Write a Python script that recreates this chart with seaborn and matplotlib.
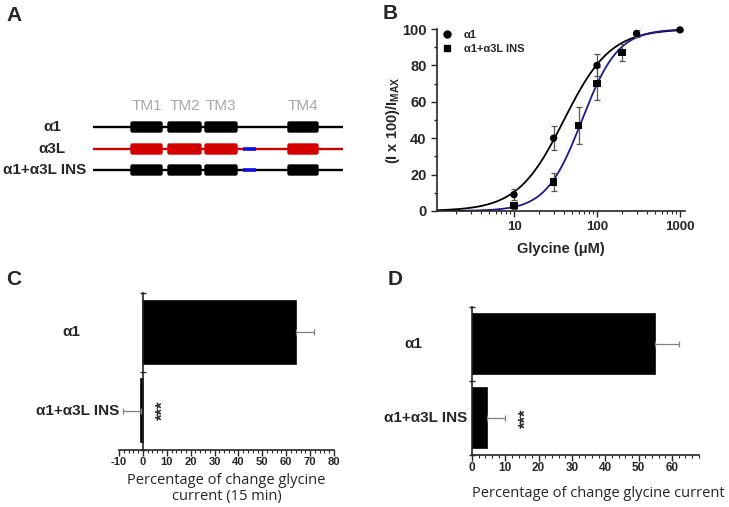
import numpy as np
import pandas as pd
import matplotlib
matplotlib.use("Agg")
import matplotlib.pyplot as plt
from matplotlib.patches import FancyBboxPatch
import seaborn as sns

# ---------------- data ----------------
# panel A: construct schematic (domain names, start/end along the sequence)
constructs = ["α1", "α3L", "α1+α3L INS"]
construct_colors = ["black", "#d40000", "black"]
tm_names = ["TM1", "TM2", "TM3", "TM4"]
tm_start = [130, 167, 204, 287]
tm_end = [163, 202, 238, 319]
ins_start, ins_end = 243, 256          # inserted segment (blue)
has_insert = [False, True, True]
seq_start, seq_end = 93, 343

# panel B: glycine dose-response
conc_a1 = [10, 30, 100, 300, 1000]
resp_a1 = [9, 40, 80, 97.5, 99.5]
err_a1 = [3, 6.5, 6, 2, 0.5]
conc_ins = [10, 30, 60, 100, 200]
resp_ins = [3, 16, 47, 70, 87]
err_ins = [2, 5, 10, 9, 4.5]
# Hill fits (EC50 in uM, Hill coefficient)
ec50_a1, nh_a1 = 40, 1.55
ec50_ins, nh_ins = 66, 2.0

# panel C / D: percentage of change in glycine current
groups = ["α1", "α1+α3L INS"]
change_15min = [64, -1.0]
change_15min_err = [7.5, 7.5]
change_d = [55, 4.5]
change_d_err = [7, 5.5]

# ---------------- style ----------------
sns.set_style("ticks")
plt.rcParams["font.family"] = ["Liberation Sans", "DejaVu Sans"]
plt.rcParams["mathtext.fontset"] = "custom"
plt.rcParams["mathtext.bf"] = "Liberation Sans:bold"
plt.rcParams["mathtext.rm"] = "Liberation Sans"
plt.rcParams["axes.unicode_minus"] = False

W, H = 729, 507
fig = plt.figure(figsize=(W / 100, H / 100), dpi=100)


def px_axes(x0, y0, x1, y1):
    return fig.add_axes([x0 / W, 1 - y1 / H, (x1 - x0) / W, (y1 - y0) / H])


# panel letters
for letter, (lx, ly) in zip("ABCD", [(6, 6), (383, 4), (6, 270), (388, 270)]):
    fig.text(lx / W, 1 - ly / H, letter, fontsize=15, fontweight="bold", va="top", ha="left")

# ---------------- A ----------------
axA = px_axes(0, 0, 360, 230)
axA.set_xlim(0, 360)
axA.set_ylim(230, 0)
axA.axis("off")
row_y = [127, 149, 170]
label_cx = [52, 52, 45]
for name, col, y, ins, cx in zip(constructs, construct_colors, row_y, has_insert, label_cx):
    axA.plot([seq_start, seq_end], [y, y], color=col, lw=1.7, solid_capstyle="butt")
    for s, e in zip(tm_start, tm_end):
        axA.add_patch(FancyBboxPatch((s + 1, y - 5), e - s - 2, 10,
                                     boxstyle="round,pad=0,rounding_size=1.5",
                                     fc=col, ec=col, lw=1))
    if ins:
        axA.plot([ins_start, ins_end], [y, y], color="#1010e6", lw=2.6, solid_capstyle="butt")
    axA.text(cx, y, name, ha="center", va="center", fontsize=11, fontweight="bold")
for nm, s, e in zip(tm_names, tm_start, tm_end):
    axA.text((s + e) / 2, 106, nm, ha="center", va="center", fontsize=11, color="#a8a8a8")

# ---------------- B ----------------
axB = px_axes(437, 29, 685, 211)
xfit = np.logspace(np.log10(1.18), 3, 200)
fits = pd.DataFrame({
    "conc": np.concatenate([xfit, xfit]),
    "resp": np.concatenate([100 / (1 + (ec50_a1 / xfit) ** nh_a1),
                            100 / (1 + (ec50_ins / xfit) ** nh_ins)]),
    "group": ["α1"] * len(xfit) + ["α1+α3L INS"] * len(xfit),
})
sns.lineplot(data=fits, x="conc", y="resp", hue="group",
             palette={"α1": "black", "α1+α3L INS": "#1f1a8a"},
             lw=1.3, legend=False, ax=axB)
axB.errorbar(conc_a1, resp_a1, yerr=err_a1, fmt="none", ecolor="#555555",
             elinewidth=0.9, capsize=2.2, capthick=0.9, clip_on=False)
axB.errorbar(conc_ins, resp_ins, yerr=err_ins, fmt="none", ecolor="#555555",
             elinewidth=0.9, capsize=2.2, capthick=0.9, clip_on=False)
pts = pd.DataFrame({"conc": conc_a1 + conc_ins, "resp": resp_a1 + resp_ins,
                    "group": ["α1"] * len(conc_a1) + ["α1+α3L INS"] * len(conc_ins)})
sns.scatterplot(data=pts, x="conc", y="resp", style="group",
                markers={"α1": "o", "α1+α3L INS": "s"}, color="black",
                s=28, edgecolor="black", linewidth=0, ax=axB, clip_on=False, zorder=5)
axB.set_xscale("log")
axB.set_xlim(1.18, 1150)
axB.set_ylim(0, 100)
axB.set_yticks([0, 20, 40, 60, 80, 100])
axB.set_yticks(np.arange(10, 100, 20), minor=True)
axB.set_xticks([10, 100, 1000], ["10", "100", "1000"])
sns.despine(ax=axB)
axB.tick_params(axis="y", labelsize=10.5, width=1, length=4)
axB.tick_params(axis="y", which="minor", width=1, length=2.5)
axB.tick_params(axis="x", labelsize=9.5, width=1, length=4)
axB.tick_params(axis="x", which="minor", width=0.8, length=2.5)
for lab in axB.get_xticklabels() + axB.get_yticklabels():
    lab.set_fontweight("bold")
for sp in axB.spines.values():
    sp.set_linewidth(1.2)
axB.set_xlabel("Glycine (μM)", fontsize=10.5, fontweight="bold", labelpad=6)
axB.set_ylabel(r"(I x 100)/I$_\mathbf{MAX}$", fontsize=10.5, fontweight="bold", labelpad=0)
axB.legend(handles=[
    plt.Line2D([], [], marker="o", ls="", color="black", ms=5),
    plt.Line2D([], [], marker="s", ls="", color="black", ms=4.5)],
    labels=["α1", "α1+α3L INS"], loc="upper left", bbox_to_anchor=(-0.045, 1.05),
    frameon=False, handletextpad=0.5, labelspacing=0.35,
    prop={"weight": "bold", "size": 8})


# ---------------- C / D ----------------
def bar_panel(ax, values, errs, xlim, xmajor, stars_x, labelsize, label_x):
    df = pd.DataFrame({"group": groups, "value": values})
    sns.barplot(data=df, x="value", y="group", orient="h", color="black",
                width=0.8, saturation=1, edgecolor="black", linewidth=1.2, ax=ax)
    for i, (v, e) in enumerate(zip(values, errs)):
        xe = [[0], [e]] if v >= 0 else [[e], [0]]
        ax.errorbar([v], [i], xerr=xe, fmt="none", ecolor="#808080",
                    elinewidth=0.9, capsize=2.5, capthick=0.9)
    ax.set_xlim(*xlim)
    ax.set_ylim(1.5, -0.5)
    ax.set_xticks(xmajor)
    ax.set_xticks(np.arange(xlim[0], xlim[1] + 0.01, 2), minor=True)
    ax.set_yticks([-0.5, 0.5, 1.5], ["", "", ""])
    ax.set_ylabel("")
    ax.set_xlabel("")
    ax.spines["left"].set_position(("data", 0))
    sns.despine(ax=ax)
    for sp in ax.spines.values():
        sp.set_linewidth(1.2)
    ax.tick_params(axis="x", labelsize=labelsize, width=1, length=4, pad=1)
    ax.tick_params(axis="x", which="minor", width=0.8, length=2)
    ax.tick_params(axis="y", direction="inout", width=1, length=5)
    for lab in ax.get_xticklabels():
        lab.set_fontweight("bold")
    for i, g in enumerate(groups):
        ax.annotate(g, xy=(0, i), xycoords=("data", "data"), xytext=(label_x[i], 0),
                    textcoords="offset pixels", ha="center", va="center",
                    fontsize=11, fontweight="bold", annotation_clip=False)
    ax.text(stars_x, 1, "***", rotation=90, ha="center", va="center",
            fontsize=12, fontweight="bold")


axC = px_axes(119, 293, 334, 450)
bar_panel(axC, change_15min, change_15min_err, (-10, 80), np.arange(-10, 81, 10),
          8.5, 8, [-72, -65])
axC.set_xlabel("Percentage of change glycine\ncurrent (15 min)", fontsize=10.5,
               family=["Open Sans", "DejaVu Sans"], labelpad=4, linespacing=1.1)

axD = px_axes(472, 307, 698.7, 455)
bar_panel(axD, change_d, change_d_err, (0, 68), np.arange(0, 61, 10),
          16.2, 8.5, [-59, -46])
axD.set_xlabel("Percentage of change glycine current", fontsize=10.5,
               family=["Open Sans", "DejaVu Sans"], labelpad=9, loc="left")

fig.savefig("out.png", dpi=100)
